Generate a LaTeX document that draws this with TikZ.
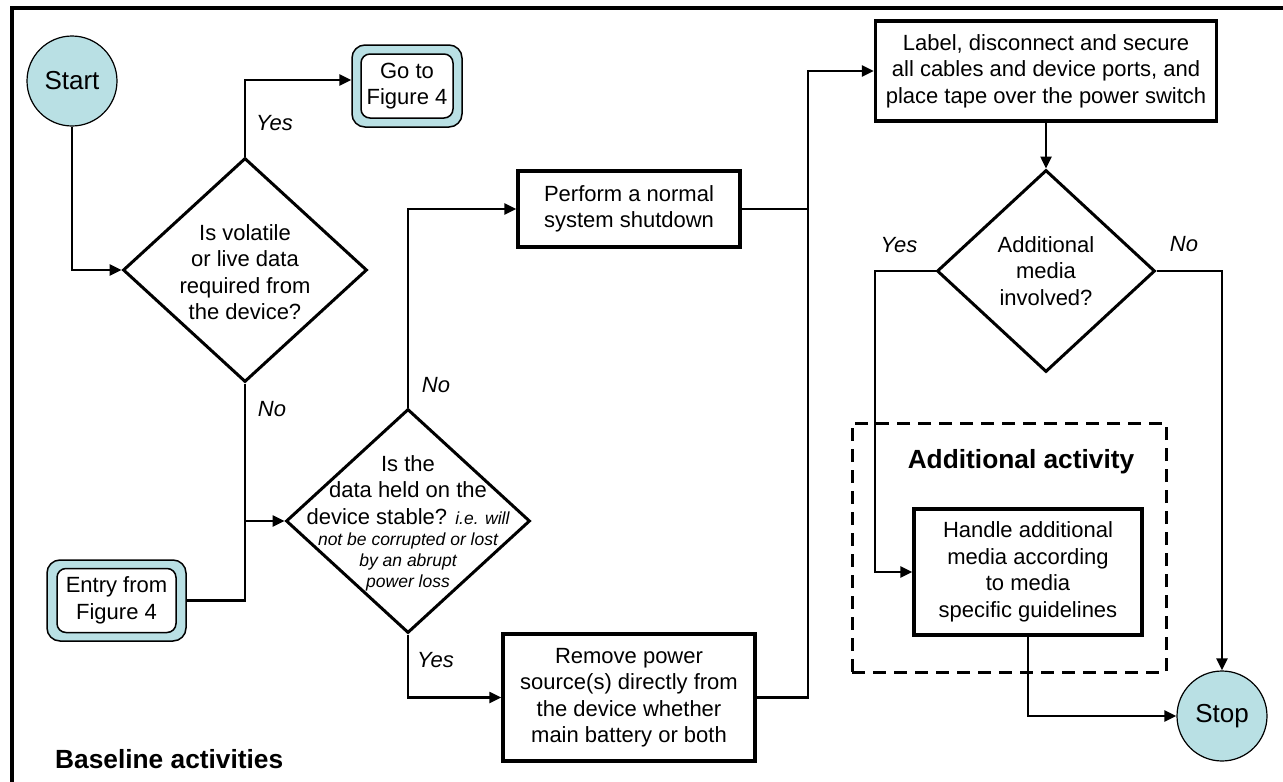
\documentclass[tikz,border=0pt]{standalone}
\usepackage{fontspec}
\setmainfont{Liberation Sans}
\usetikzlibrary{shapes.geometric,arrows.meta}
\definecolor{lblue}{HTML}{B9E0E4}
\begin{document}
\begin{tikzpicture}[x=1pt,y=-1pt,
  base/.style={font=\fontsize{22}{26.5}\selectfont, align=center},
  procbox/.style={draw, line width=3.5pt, inner sep=0pt, base},
  conn/.style={line width=2.5pt},
  arr/.style={conn, -{Triangle[length=12pt,width=11pt]}},
  dia/.style={draw, diamond, line width=3pt, inner sep=0pt},
  term/.style={circle, draw, line width=1.2pt, fill=lblue, inner sep=0pt, minimum size=90pt, font=\fontsize{26}{30}\selectfont},
  outerlink/.style={draw, line width=1.5pt, fill=lblue, rounded corners=13pt, inner sep=0pt},
  innerlink/.style={draw, line width=1.5pt, fill=white, rounded corners=9pt, inner sep=0pt, base},
  lab/.style={font=\itshape\fontsize{22}{26.5}\selectfont, inner sep=0pt},
  dtext/.style={base, inner sep=0pt},
  smalltext/.style={font=\itshape\fontsize{17.5}{21}\selectfont, align=center, inner sep=0pt},
  heading/.style={font=\bfseries\fontsize{26.3}{30}\selectfont, inner sep=0pt},
  dashbox/.style={draw, line width=3pt, dash pattern=on 13pt off 8pt, inner sep=0pt},
]
\useasboundingbox (0,0) rectangle (1283,782);
\clip (0,0) rectangle (1283,782);
\fill[white] (0,0) rectangle (1283,782);
% frame
\draw[line width=4pt] (11.5,830) -- (11.5,8) -- (1320,8);

% terminals
\node[term] (start) at (72,81) {Start};
\node[term] (stop) at (1222,716) {Stop};

% link boxes
\node[outerlink, minimum width=110pt, minimum height=82pt] (gotoout) at (407,86) {};
\node[innerlink, minimum width=92pt, minimum height=64pt] (goto) at (407,86) {Go to\\Figure 4};
\node[outerlink, minimum width=139pt, minimum height=81pt] (entryout) at (116.5,600.5) {};
\node[innerlink, minimum width=119pt, minimum height=64pt] (entry) at (116.5,600.5) {Entry from\\Figure 4};

% decisions
\node[dia, minimum width=244pt, minimum height=224pt] (d1) at (245,270) {};
\node[dtext] (d1t) at (245,272) {Is volatile\\or live data\\required from\\the device?};
\node[dia, minimum width=244pt, minimum height=224pt] (d2) at (408,521) {};
\node[dtext] (d2t) at (408,490) {Is the\\data held on the\\device stable? {\itshape\fontsize{17.5}{21}\selectfont i.e. will}};
\node[smalltext] (d2s) at (408,562) {not be corrupted or lost\\by an abrupt\\power loss};
\node[dia, minimum width=218pt, minimum height=202pt] (d3) at (1046,271) {};
\node[dtext] (d3t) at (1046,271) {Additional\\media\\involved?};

% process boxes
\node[procbox, minimum width=222pt, minimum height=76pt] (perform) at (629,209) {Perform a normal\\system shutdown};
\node[procbox, minimum width=341pt, minimum height=100pt] (label) at (1046,71) {Label, disconnect and secure\\all cables and device ports, and\\place tape over the power switch};
\node[procbox, minimum width=252pt, minimum height=127pt] (remove) at (629,697.5) {Remove power\\source(s) directly from\\the device whether\\main battery or both};

% additional activity
\node[dashbox, minimum width=314pt, minimum height=249pt] (addbox) at (1009,547.5) {};
\node[heading, anchor=base] (addhead) at (1021,468) {Additional activity};
\node[procbox, minimum width=228pt, minimum height=126pt] (handle) at (1028,572) {Handle additional\\media according\\to media\\specific guidelines};

\node[heading, anchor=base west] (basehead) at (55,768) {Baseline activities};

% coordinates
\coordinate (bt) at (808,71);
\coordinate (yb) at (875,271);
\coordinate (nb) at (1222,271);

% connectors
\draw[arr] (start.south) |- (d1.west);
\draw[arr] (d1.north) |- ([yshift=6pt]gotoout.west);
\draw[conn] (d1.south) -- (d1.south |- entryout.east) -- (entryout.east);
\draw[arr] (d1.south |- d2.west) -- (d2.west);
\draw[arr] (d2.north) |- (perform.west);
\draw[arr] (d2.south) |- (remove.west);
\draw[conn] (perform.east) -- (perform.east -| bt);
\draw[arr] (remove.east) -| (bt) -- (label.west);
\draw[arr] (label.south) -- (d3.north);
\draw[arr] (d3.west) -- (yb) |- (handle.west);
\draw[arr] (d3.east) -- (nb) -- (stop.north);
\draw[arr] (handle.south) |- (stop.west);

% labels
\node[lab] (y1) at (274.5,123) {Yes};
\node[lab] (n1) at (272,409) {No};
\node[lab] (n2) at (436,385) {No};
\node[lab] (y2) at (435.5,660) {Yes};
\node[lab] (y3) at (899,245) {Yes};
\node[lab] (n3) at (1184,244) {No};
\end{tikzpicture}
\end{document}
